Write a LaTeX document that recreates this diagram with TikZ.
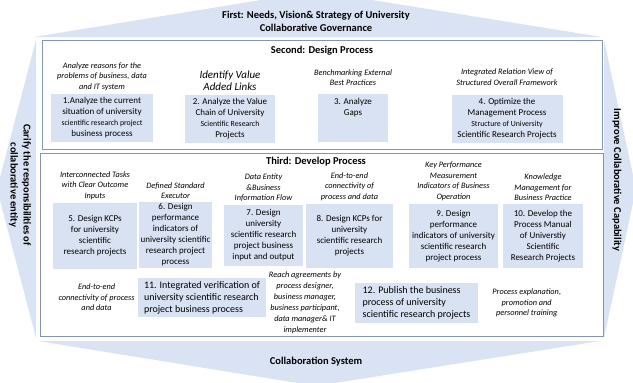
\documentclass[tikz,border=0pt]{standalone}
\usepackage{fontspec}
\setmainfont{Carlito}[Extension=.ttf, UprightFont=*-Regular, ItalicFont=*-Italic,
    BoldFont=*-Bold, BoldItalicFont=*-BoldItalic]
\usetikzlibrary{positioning}
\definecolor{paleblue}{RGB}{218,227,243}
\definecolor{boxblue}{RGB}{217,226,243}
\definecolor{frameblue}{RGB}{132,151,176}

\begin{document}
\begin{tikzpicture}[x=1pt, y=-1pt,
        title/.style={font=\fontsize{10.5}{13}\selectfont\bfseries, align=center, inner sep=0pt},
        note/.style={font=\fontsize{8.3}{10.5}\selectfont\itshape, align=center, inner sep=0pt},
        task/.style={fill=boxblue, align=center, font=\fontsize{9}{11}\selectfont, inner sep=1pt},
        wide/.style={task, align=left, font=\fontsize{10}{12}\selectfont, inner sep=3pt},
        panel/.style={draw=frameblue, fill=white, line width=0.8pt}]
        \useasboundingbox (0,0) rectangle (633,383);
        % outer frame of four wedges
        \fill[paleblue] (34,37) -- (316,-9) -- (602,37) -- cycle;
        \fill[paleblue] (38,341) -- (600,341) -- (316,386) -- cycle;
        \fill[paleblue] (36,40) -- (-3,189) -- (36,338) -- cycle;
        \fill[paleblue] (604,40) -- (636,189) -- (604,338) -- cycle;
        \node[title] (first) at (316,21) {First: Needs, Vision\& Strategy of University\\Collaborative Governance};
        \node[title] (system) at (316,362) {Collaboration System};
        \node[title, rotate=-90] (clarify) at (20,185) {Carify the responsibilities of\\collaborative entity};
        \node[title, rotate=-90] (improve) at (617,180) {Improve Collaborative Capability};

        % second: design process
        \draw[panel] (42,40) rectangle (602,149);
        \node[title] (second) at (322,51) {Second: Design Process};
        \node[task, minimum width=102, minimum height=48] (b1) at (102,118)
            {1.Analyze the current\\situation of university\\{\fontsize{7.8}{11}\selectfont scientific research project}\\business process};
        \node[task, minimum width=90, minimum height=48] (b2) at (230,119)
            {2. Analyze the Value\\Chain of University\\{\fontsize{7.8}{11}\selectfont Scientific Research}\\Projects};
        \node[task, minimum width=70, minimum height=48] (b3) at (353,118)
            {3. Analyze\\Gaps\\~\\~};
        \node[task, minimum width=111, minimum height=48] (b4) at (507,118.5)
            {4. Optimize the\\Management Process\\{\fontsize{7.8}{11}\selectfont Structure of University}\\Scientific Research Projects};
        \node[note, above=3pt of b1] (n1) {Analyze reasons for the\\problems of business, data\\and IT system};
        \node[note, above=4pt of b2, font=\fontsize{11}{12.5}\selectfont\itshape] (n2) {Identify Value\\Added Links};
        \node[note, above=8pt of b3] (n3) {Benchmarking External\\Best Practices};
        \node[note, above=9pt of b4] (n4) {Integrated Relation View of\\Structured Overall Framework};

        % third: develop process
        \draw[panel] (40,153) rectangle (603,336);
        \node[title] (third) at (316,162) {Third: Develop Process};
        \node[task, minimum width=84, minimum height=66] (b5) at (95,236)
            {5. Design KCPs\\for university\\scientific\\research projects};
        \node[task, minimum width=73, minimum height=66] (b6) at (175.5,235)
            {6. Design\\performance\\indicators of\\university scientific\\research project\\process};
        \node[task, minimum width=79, minimum height=61] (b7) at (263.5,235.5)
            {7. Design\\university\\scientific research\\project business\\input and output};
        \node[task, minimum width=87, minimum height=64] (b8) at (349.5,236)
            {8. Design KCPs for\\university\\scientific research\\projects};
        \node[task, minimum width=89, minimum height=64] (b9) at (453.5,236)
            {9. Design\\performance\\indicators of university\\scientific research\\project process};
        \node[task, minimum width=80, minimum height=64] (b10) at (543,236)
            {10. Develop the\\Process Manual\\of Universtiy\\Scientific\\Research Projects};
        \node[note, above=3pt of b5] (n5) {Interconnected Tasks\\with Clear Outcome\\Inputs};
        \node[note, above=3pt of b6] (n6) {Defined Standard\\Executor};
        \node[note, above=3pt of b7] (n7) {Data Entity\\\&Business\\Information Flow};
        \node[note, above=3pt of b8] (n8) {End-to-end\\connectivity of\\process and data};
        \node[note, above=3pt of b9] (n9) {Key Performance\\Measurement\\Indicators of Business\\Operation};
        \node[note, above=3pt of b10] (n10) {Knowledge\\Management for\\Business Practice};

        \node[wide, minimum width=128, minimum height=39] (b11) at (202,297.5)
            {11. Integrated verification of\\university scientific research\\project business process};
        \node[wide, minimum width=123, minimum height=40] (b12) at (416.5,303)
            {12. Publish the business\\process of university\\scientific research projects};
        \node[note, left=3pt of b11] (n11) {End-to-end\\connectivity of process\\and data};
        \node[note, font=\fontsize{8.3}{11}\selectfont\itshape] (agree) at (305,303) {Reach agreements by\\process designer,\\business manager,\\business participant,\\data manager\& IT\\implementer};
        \node[note, right=14pt of b12] (n12) {Process explanation,\\promotion and\\personnel training};
    \end{tikzpicture}
\end{document}
